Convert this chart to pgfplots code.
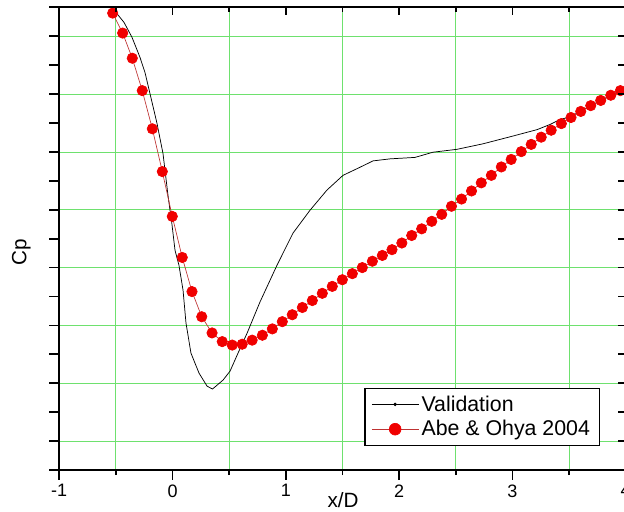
\documentclass[border=0pt]{standalone}
\usepackage{pgfplots}
\pgfplotsset{compat=1.18}
\usepackage{fontspec}
\setmainfont{Liberation Sans}
\definecolor{gridgreen}{RGB}{110,225,110}
\definecolor{dotred}{RGB}{240,0,0}
\definecolor{linered}{RGB}{190,50,50}

\pgfplotstableread{
x y
-0.507 15.86
-0.428 15.48
-0.357 14.96
-0.287 14.27
-0.243 13.75
-0.199 13.02
-0.137 11.99
-0.084 10.95
-0.040 9.50
-0.004 8.47
0.022 7.60
0.057 7.08
0.093 6.22
0.119 5.08
0.163 4.04
0.234 3.35
0.305 2.90
0.353 2.80
0.446 3.11
0.508 3.42
0.578 4.04
0.658 4.73
0.772 5.81
0.922 7.08
1.063 8.19
1.213 8.98
1.363 9.68
1.505 10.19
1.655 10.47
1.770 10.69
1.920 10.76
2.140 10.81
2.299 10.99
2.511 11.09
2.740 11.28
2.996 11.54
3.217 11.77
3.332 11.95
3.420 12.12
3.508 12.21
3.597 12.40
3.694 12.61
3.782 12.78
3.870 12.96
3.959 13.13
}\validation

\pgfplotstableread{
x y
-0.528 15.80
-0.440 15.11
-0.355 14.24
-0.267 13.12
-0.178 11.80
-0.090 10.32
-0.002 8.77
0.086 7.35
0.172 6.17
0.258 5.30
0.349 4.74
0.439 4.44
0.527 4.32
0.615 4.35
0.703 4.49
0.793 4.66
0.881 4.88
0.969 5.13
1.057 5.37
1.146 5.62
1.234 5.86
1.322 6.11
1.410 6.35
1.499 6.58
1.587 6.79
1.675 7.00
1.764 7.22
1.852 7.42
1.937 7.62
2.024 7.85
2.111 8.11
2.199 8.34
2.288 8.60
2.376 8.84
2.462 9.12
2.551 9.37
2.639 9.65
2.725 9.93
2.814 10.19
2.902 10.48
2.989 10.74
3.078 11.01
3.166 11.26
3.254 11.51
3.342 11.75
3.432 11.98
3.517 12.19
3.603 12.40
3.691 12.60
3.779 12.78
3.868 12.96
3.953 13.12
}\abe

\begin{document}
\begin{tikzpicture}
\pgfplotsset{
  common/.style={
    scale only axis, width=424.9pt, height=347pt,
    xmin=-1, xmax=4, ymin=0, ymax=16,
    axis line style={line width=1.4pt},
    every tick/.style={black, line width=1.3pt},
    xtick={-1,0,...,4}, minor xtick={-0.5,0.5,...,3.5},
    ytick={0,1,...,16}, yticklabels={},
    /pgf/number format/assume math mode=true,
  }
}
\begin{axis}[common, name=ax,
  axis x line*=bottom, axis y line*=left,
  tick align=outside,
  major tick length=7.3pt, minor tick length=3.75pt,
  minor ytick={1,3,...,15},
  xmajorgrids=false, ymajorgrids=false, xminorgrids=true, yminorgrids=true,
  minor grid style={gridgreen, line width=0.6pt},
  xticklabel style={font=\fontsize{13.5}{15}\selectfont},
  xlabel={x/D}, ylabel={Cp},
  xlabel style={at={(axis description cs:0.501,-0.0821)}, anchor=base, font=\fontsize{15.5}{18}\selectfont},
  ylabel style={at={(axis description cs:-0.0671,0.471)}, anchor=center, font=\fontsize{15.5}{18}\selectfont},
  clip=false,
  legend cell align=left,
  legend style={at={(0.9546,0.0519)}, anchor=south east, draw=black, line width=1.1pt,
    font=\fontsize{16}{19}\selectfont, inner xsep=5pt, inner ysep=3.5pt, row sep=1.5pt},
]
\addplot[black, line width=0.55pt, mark=none,
  legend image code/.code={\draw[black, line width=0.55pt] (0pt,0pt)--(35pt,0pt); \fill[black] (17.5pt,0pt) circle (1pt);}]
  table[x=x,y=y]{\validation};
\addlegendentry{Validation}
\addplot[linered, line width=0.5pt, mark=*, mark size=3.9pt, mark options={fill=dotred, draw=dotred},
  legend image code/.code={\draw[linered, line width=0.5pt] (0pt,0pt)--(35pt,0pt); \fill[dotred] (17.5pt,0pt) circle (4.4pt);}]
  table[x=x,y=y]{\abe};
\addlegendentry{Abe \& Ohya 2004}
\end{axis}
\begin{axis}[common,
  axis x line*=top, axis y line*=right,
  tick align=inside,
  major tick length=6pt, minor tick length=3.75pt,
  xticklabels={}, 
]
\end{axis}
\pgfresetboundingbox
\path[use as bounding box] ([xshift=-44.4pt,yshift=-30.75pt]ax.south west) rectangle ([xshift=-1.3pt,yshift=5.5pt]ax.north east);
\end{tikzpicture}
\end{document}
